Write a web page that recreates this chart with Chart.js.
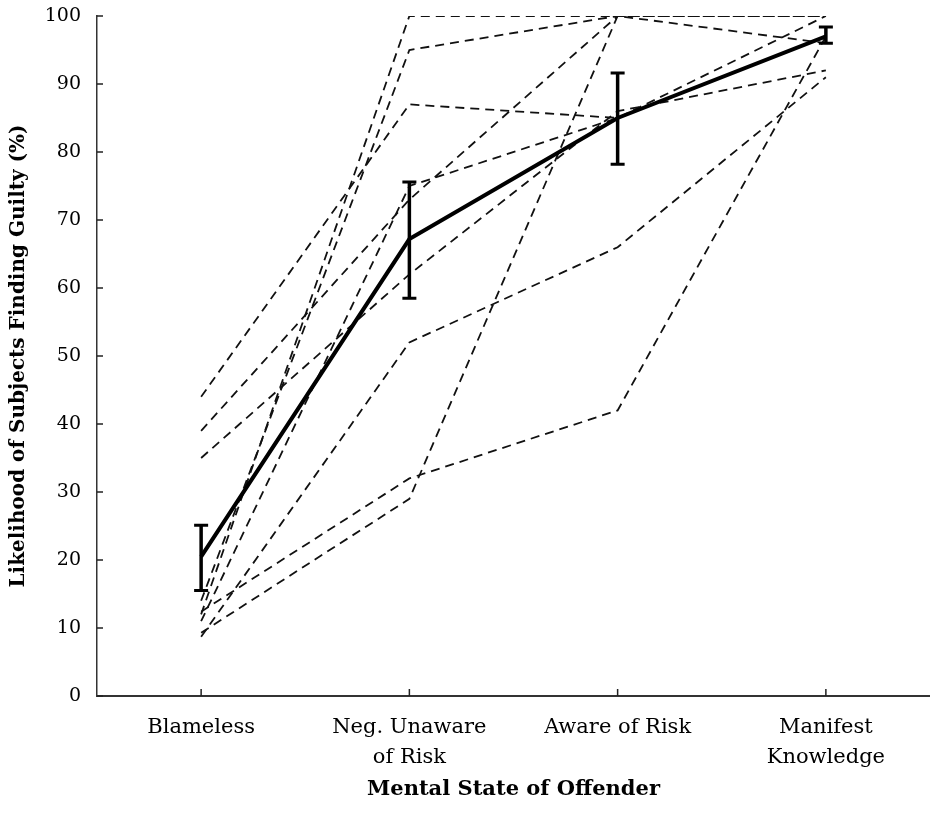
<!DOCTYPE html>
<html>
<head>
<meta charset="utf-8">
<script src="https://cdn.jsdelivr.net/npm/chart.js@4"></script>
<style>
  html, body { margin: 0; padding: 0; background: #fff; }
  #wrap { width: 930px; height: 828px; }
</style>
</head>
<body>
<div id="wrap"><canvas id="c" width="930" height="828"></canvas></div>
<script>
const categories = [["Blameless"], ["Neg. Unaware", "of Risk"], ["Aware of Risk"], ["Manifest", "Knowledge"]];
const yTicks = [0, 10, 20, 30, 40, 50, 60, 70, 80, 90, 100];

const subject1 = [44, 87, 85, 100];
const subject2 = [39, 73, 100, 100];
const subject3 = [35, 62, 86, 92];
const subject4 = [12, 100, 100, 100];
const subject5 = [14, 95, 100, 100];
const subject6 = [11, 75, 85, 97];
const subject7 = [8.7, 52, 66, 91];
const subject8 = [12.4, 32, 42, 97];
const subject9 = [9.3, 29, 100, 96];

const meanValues = [20.5, 67.2, 85, 97];
const errLow = [15.5, 58.5, 78.2, 96];
const errHigh = [25.1, 75.6, 91.6, 98.4];

const xTitle = "Mental State of Offender";
const yTitle = "Likelihood of Subjects Finding Guilty (%)";

const subjects = [subject1, subject2, subject3, subject4, subject5, subject6, subject7, subject8, subject9];

const datasets = subjects.map((s, i) => ({
  label: "Subject " + (i + 1),
  data: s,
  borderColor: "#111",
  borderWidth: 1.8,
  borderDash: [9, 6],
  pointRadius: 0,
  fill: false,
  tension: 0,
  order: 2
}));
datasets.push({
  label: "Mean",
  data: meanValues,
  borderColor: "#000",
  borderWidth: 4,
  pointRadius: 0,
  fill: false,
  tension: 0,
  order: 1
});

const extras = {
  id: "extras",
  afterDatasetsDraw(chart) {
    const ctx = chart.ctx;
    const x = chart.scales.x, y = chart.scales.y;
    ctx.save();
    ctx.strokeStyle = "#000";
    ctx.lineCap = "butt";
    meanValues.forEach((m, i) => {
      const px = x.getPixelForValue(i);
      const lo = y.getPixelForValue(errLow[i]);
      const hi = y.getPixelForValue(errHigh[i]);
      ctx.lineWidth = 3.5;
      ctx.beginPath();
      ctx.moveTo(px, lo);
      ctx.lineTo(px, hi);
      ctx.stroke();
      ctx.lineWidth = 3;
      ctx.beginPath();
      ctx.moveTo(px - 7, lo);
      ctx.lineTo(px + 7, lo);
      ctx.moveTo(px - 7, hi);
      ctx.lineTo(px + 7, hi);
      ctx.stroke();
    });
    ctx.restore();
  },
  afterDraw(chart) {
    const ctx = chart.ctx;
    const x = chart.scales.x, y = chart.scales.y;
    const area = chart.chartArea;
    ctx.save();
    ctx.strokeStyle = "#222";
    ctx.lineWidth = 1.5;
    ctx.beginPath();
    y.ticks.forEach((t, i) => {
      const py = y.getPixelForTick(i);
      ctx.moveTo(area.left, py);
      ctx.lineTo(area.left + 6, py);
    });
    x.ticks.forEach((t, i) => {
      const px = x.getPixelForTick(i);
      ctx.moveTo(px, area.bottom);
      ctx.lineTo(px, area.bottom - 7);
    });
    ctx.stroke();
    ctx.restore();
  }
};

new Chart(document.getElementById("c"), {
  type: "line",
  data: { labels: categories, datasets },
  options: {
    responsive: false,
    animation: false,
    devicePixelRatio: 1,
    layout: { padding: { top: 16, right: 0, bottom: 0, left: 0 } },
    plugins: { legend: { display: false }, tooltip: { enabled: false } },
    scales: {
      x: {
        type: "category",
        offset: true,
        grid: { display: false, drawTicks: false },
        border: { display: true, color: "#333", width: 2 },
        ticks: {
          color: "#000",
          padding: 17,
          maxRotation: 0,
          autoSkip: false,
          font: { family: "DejaVu Serif", size: 21, lineHeight: 1.4 }
        },
        title: {
          display: true,
          text: xTitle,
          color: "#000",
          padding: { top: 0, bottom: 26 },
          font: { family: "DejaVu Serif", size: 21, weight: "bold" }
        },
        afterFit(s) { s.height = 132; s.paddingTop = 0; s.paddingBottom = 0; }
      },
      y: {
        min: 0,
        max: 100,
        afterBuildTicks(s) { s.ticks = yTicks.map(v => ({ value: v })); },
        grid: { display: false, drawTicks: false },
        border: { display: true, color: "#333", width: 1.5 },
        ticks: {
          color: "#000",
          padding: 16,
          font: { family: "DejaVu Serif", size: 19 }
        },
        title: {
          display: true,
          text: yTitle,
          color: "#000",
          padding: { top: 7, bottom: 0 },
          font: { family: "DejaVu Serif", size: 20, weight: "bold" }
        },
        afterFit(s) { s.width = 97; s.paddingTop = 0; s.paddingBottom = 0; }
      }
    }
  },
  plugins: [extras]
});
</script>
</body>
</html>
